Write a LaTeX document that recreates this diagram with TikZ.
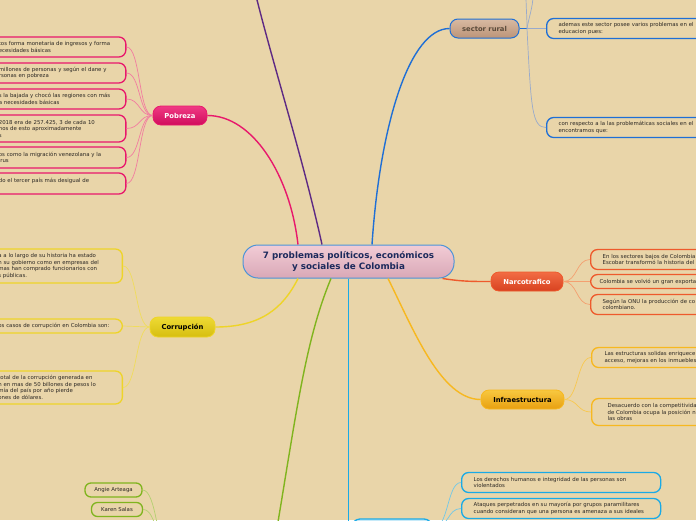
\documentclass[tikz,border=0pt]{standalone}
\usepackage{fontspec}
\setmainfont{DejaVu Sans}
\usepackage{tikz}
\definecolor{Paper}{HTML}{E9D5A9}
\definecolor{LeafText}{HTML}{2C2824}
\definecolor{MainBlue}{HTML}{4C94D8}
\definecolor{MainTop}{HTML}{F2CCD6}
\definecolor{MainBot}{HTML}{D9A8B6}
\definecolor{MainText}{HTML}{1C2A5C}
\definecolor{PobLine}{HTML}{E8186C}
\definecolor{PobTop}{HTML}{F03A84}
\definecolor{PobBot}{HTML}{D00C5C}
\definecolor{PobLink}{HTML}{F27CA0}
\definecolor{CorLine}{HTML}{EED428}
\definecolor{CorTop}{HTML}{EEDA34}
\definecolor{CorBot}{HTML}{D6BE10}
\definecolor{CorLink}{HTML}{F0DC5C}
\definecolor{RurBlue}{HTML}{1F6FD6}
\definecolor{RurTop}{HTML}{D8BAA2}
\definecolor{RurBot}{HTML}{BC9478}
\definecolor{RurText}{HTML}{5A4A3A}
\definecolor{RurLink}{HTML}{98AACC}
\definecolor{NarLine}{HTML}{EE5A2C}
\definecolor{NarTop}{HTML}{F26C44}
\definecolor{NarBot}{HTML}{D84220}
\definecolor{NarLink}{HTML}{F4A070}
\definecolor{InfLine}{HTML}{F7B820}
\definecolor{InfTop}{HTML}{F8C840}
\definecolor{InfBot}{HTML}{E8A010}
\definecolor{InfLink}{HTML}{F8C850}
\definecolor{CyanLine}{HTML}{1AAAE6}
\definecolor{CyanLink}{HTML}{70C8E8}
\definecolor{GreenLine}{HTML}{80B41E}
\definecolor{GreenLink}{HTML}{B4D070}
\definecolor{PolPurple}{HTML}{5E2A84}

\begin{document}
\begin{tikzpicture}[x=1pt,y=-1pt,
  topic/.style={rounded corners=8pt, minimum height=19pt, inner sep=0pt, line width=0.8pt,
    font=\fontsize{6.8}{8}\selectfont\bfseries},
  leaf/.style={draw, rounded corners=7pt, line width=1.3pt, align=left, inner xsep=10pt,
    inner ysep=0pt, text=LeafText, font=\fontsize{5.4}{6.5}\selectfont},
  member/.style={draw, rounded corners=6pt, line width=1.3pt, inner sep=0pt, minimum height=14pt,
    text=LeafText, font=\fontsize{5.4}{6.5}\selectfont},
  branch/.style={line width=1.4pt},
  link/.style={line width=0.7pt}]
  \useasboundingbox (0,0) rectangle (696,520);
  \clip (0,0) rectangle (696,520);
  \fill[Paper] (0,0) rectangle (696,520);

  % central topic
  \node[draw=MainBlue, line width=1pt, rounded corners=15pt, top color=MainTop, bottom color=MainBot,
    minimum width=211pt, minimum height=33pt, inner sep=0pt, align=center, text=MainText,
    font=\fontsize{8.8}{11}\selectfont\bfseries] (main) at (348.5,261.5)
    {7 problemas políticos, económicos\\y sociales de Colombia};

  % main topics
  \node[topic, draw=PobLine, top color=PobTop, bottom color=PobBot, text=white, minimum width=54pt] (pob) at (180,115.5) {Pobreza};
  \node[topic, draw=CorLine, top color=CorTop, bottom color=CorBot, text=black, minimum width=65pt, minimum height=20pt] (cor) at (182.5,327) {Corrupción};
  \node[topic, draw=RurBlue, line width=1pt, top color=RurTop, bottom color=RurBot, text=RurText, minimum width=69pt] (rur) at (484.5,28.5) {sector rural};
  \node[topic, draw=NarLine, top color=NarTop, bottom color=NarBot, text=white, minimum width=72pt] (nar) at (527,281.5) {Narcotrafico};
  \node[topic, draw=InfLine, top color=InfTop, bottom color=InfBot, text=black, minimum width=83pt] (inf) at (522.5,399.5) {Infraestructura};
  \node[topic, draw=CyanLine, line width=1.3pt, fill=CyanLine!25, minimum width=80pt, minimum height=20pt] (der) at (392,529) {};
  \coordinate (pol) at (255,-8);
  \coordinate (grp) at (277,528);
  \coordinate (team) at (168,562);

  % pobreza
  \node[leaf, draw=PobLine, anchor=east, text width=117pt, minimum height=20pt] (p1) at (126.5,47) {tos forma monetaria de ingresos y forma\\ecesidades básicas};
  \node[leaf, draw=PobLine, anchor=east, text width=117pt, minimum height=20pt] (p2) at (126.5,73) {millones de personas y según el dane y\\rsonas en pobreza};
  \node[leaf, draw=PobLine, anchor=east, text width=117pt, minimum height=20pt] (p3) at (126.5,99) {s la bajada y chocó las regiones con más\\a necesidades básicas};
  \node[leaf, draw=PobLine, anchor=east, text width=117pt, minimum height=27pt] (p4) at (126.5,128.5) {2018 era de 257.425, 3 de cada 10\\nos de esto aproximadamente\\s};
  \node[leaf, draw=PobLine, anchor=east, text width=117pt, minimum height=21pt] (p5) at (126.5,157.5) {os como la migración venezolana y la\\irus};
  \node[leaf, draw=PobLine, anchor=east, text width=117pt, minimum height=21pt] (p6) at (126.5,183.5) {do el tercer país más desigual de\\\mbox{}};

  % corrupcion
  \node[leaf, draw=CorLine, anchor=east, text width=114pt, minimum height=34pt] (c1) at (123,266) {a a lo largo de su historia ha estado\\n su gobierno como en empresas del\\mas han comprado funcionarios con\\s públicas.};
  \node[leaf, draw=CorLine, anchor=east, text width=114pt, minimum height=14pt] (c2) at (123,326) {os casos de corrupción en Colombia son:};
  \node[leaf, draw=CorLine, anchor=east, text width=114pt, minimum height=33pt] (c3) at (123,387.5) {total de la corrupción generada en\\n en mas de 50 billones de pesos lo\\mía del país por año pierde\\ones de dólares.};

  % sector rural
  \node[leaf, draw=RurBlue, anchor=west, text width=170pt, inner xsep=12pt, minimum height=20pt] (r1) at (546,28.5) {ademas este sector posee varios problemas en el\\educacion pues:};
  \node[leaf, draw=RurBlue, anchor=west, text width=170pt, inner xsep=12pt, minimum height=20pt] (r2) at (546,127.5) {con respecto a la las problemáticas sociales en el\\encontramos que:};

  % narcotrafico
  \node[leaf, draw=NarLine, anchor=west, text width=150pt, inner xsep=12pt, minimum height=20pt] (n1) at (590,259.5) {En los sectores bajos de Colombia\\Escobar transformó la historia del};
  \node[leaf, draw=NarLine, anchor=west, text width=150pt, inner xsep=9pt, minimum height=14pt] (n2) at (590,281.5) {Colombia se volvió un gran exporta};
  \node[leaf, draw=NarLine, anchor=west, text width=150pt, inner xsep=12pt, minimum height=20pt] (n3) at (590,304.5) {Según la ONU la producción de co\\colombiano.};

  % infraestructura
  \node[leaf, draw=InfLine, anchor=west, text width=150pt, inner xsep=13pt, minimum height=20pt] (i1) at (591,357.5) {Las estructuras solidas enriquece\\acceso, mejoras en los inmuebles};
  \node[leaf, draw=InfLine, anchor=west, text width=150pt, inner xsep=16pt, minimum height=27pt] (i2) at (591,412) {Desacuerdo con la competitividad\\de Colombia ocupa la posición n\\las obras};

  % derechos humanos
  \node[leaf, draw=CyanLine, anchor=west, text width=175pt, inner xsep=12pt, minimum height=20pt] (d1) at (461,482.5) {Los derechos humanos e integridad de las personas son\\violentados};
  \node[leaf, draw=CyanLine, anchor=west, text width=175pt, inner xsep=12pt, minimum height=20pt] (d2) at (461,508.5) {Ataques perpetrados en su mayoría por grupos paramilitares\\cuando consideran que una persona es amenaza a sus ideales};

  % integrantes
  \node[member, draw=GreenLine, minimum width=57pt] (g1) at (113.5,490) {Angie Arteaga};
  \node[member, draw=GreenLine, minimum width=51pt] (g2) at (117,509.5) {Karen Salas};

  % branches
  \draw[branch, PobLine] (pob.east) .. controls +(45,0) and +(-8,-70) .. ([xshift=-50.5pt]main.north);
  \draw[branch, PolPurple] (pol) .. controls +(20,80) and +(-20,-90) .. ([xshift=-26.5pt]main.north);
  \draw[branch, RurBlue] ([xshift=23.5pt]main.north) .. controls +(8,-120) and +(-40,0) .. (rur.west);
  \draw[branch, NarLine] ([xshift=94pt]main.south) .. controls +(20,3) and +(-20,0) .. (nar.west);
  \draw[branch, InfLine] ([xshift=39.5pt]main.south) .. controls +(25,50) and +(-40,0) .. (inf.west);
  \draw[branch, CorLine] ([xshift=-50.5pt]main.south) .. controls +(-15,30) and +(45,0) .. (cor.east);
  \draw[branch, GreenLine] ([xshift=-17.5pt]main.south) .. controls +(-25,60) and +(20,-120) .. (grp);
  \draw[branch, CyanLine, line width=1.9pt] (main.south) |- (der.west);

  % links
  \foreach \n in {p1,p2,p3,p4,p5,p6}
    \draw[link, PobLink] (pob.west) .. controls +(-14,0) and +(14,0) .. (\n.east);
  \foreach \n in {c1,c2,c3}
    \draw[link, CorLink] (cor.west) .. controls +(-14,0) and +(14,0) .. (\n.east);
  \foreach \n in {n1,n2,n3}
    \draw[link, NarLink] (nar.east) .. controls +(14,0) and +(-14,0) .. (\n.west);
  \foreach \n in {i1,i2}
    \draw[link, InfLink] (inf.east) .. controls +(14,0) and +(-14,0) .. (\n.west);
  \foreach \n in {d1,d2}
    \draw[link, CyanLink] (der.east) .. controls +(16,0) and +(-14,0) .. (\n.west);
  \foreach \n in {g1,g2}
    \draw[link, GreenLink] (\n.east) .. controls +(14,0) and +(-10,-10) .. (team);
  \coordinate (fork) at (527,28.5);
  \coordinate (up1) at (526,-5);
  \coordinate (up2) at (533,-5);
  \draw[branch, RurBlue] (rur.east) -- (fork);
  \draw[link, RurLink] (fork) -- (r1.west);
  \draw[link, RurLink] (fork) .. controls +(4,80) and +(-14,0) .. (r2.west);
  \draw[link, RurLink] (fork) .. controls +(0,-12) and +(0,12) .. (up1);
  \draw[link, RurLink] (fork) .. controls +(2,-12) and +(0,12) .. (up2);
\end{tikzpicture}
\end{document}
